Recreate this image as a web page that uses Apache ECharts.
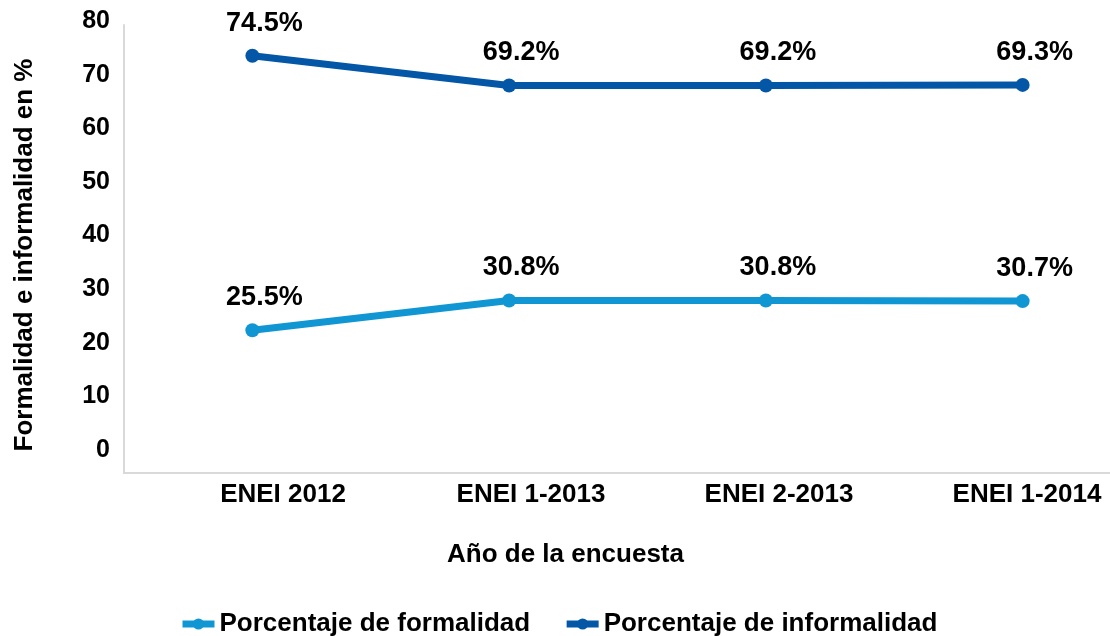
<!DOCTYPE html>
<html>
<head>
<meta charset="utf-8">
<script src="https://cdn.jsdelivr.net/npm/echarts@6/dist/echarts.min.js"></script>
<style>
  html, body { margin: 0; padding: 0; background: #fff; }
  #chart { width: 1110px; height: 636px; }
</style>
</head>
<body>
<div id="chart"></div>
<script>
// datos
const categories = ['ENEI 2012', 'ENEI 1-2013', 'ENEI 2-2013', 'ENEI 1-2014'];
const formalidad = [25.5, 30.8, 30.8, 30.7];
const informalidad = [74.5, 69.2, 69.2, 69.3];
const yMin = 0;
const yMax = 80;
const yStep = 10;

const FONT = '"Liberation Sans", Arial, sans-serif';
const colorFormal = '#1196d4';
const colorInformal = '#0456a6';
const axisGray = '#d9d9d9';

const myChart = echarts.init(document.getElementById('chart'));

const pctLabel = {
  show: true,
  position: 'top',
  distance: 12,
  offset: [12, 0],
  color: '#000',
  fontFamily: FONT,
  fontWeight: 'bold',
  fontSize: 27,
  formatter: (p) => p.value.toFixed(1) + '%'
};

myChart.setOption({
  animation: false,
  title: {
    text: 'Año de la encuesta',
    left: 442,
    top: 537,
    textStyle: { color: '#000', fontFamily: FONT, fontWeight: 'bold', fontSize: 26 }
  },
  legend: {
    left: 174,
    top: 606,
    itemWidth: 32,
    itemHeight: 14,
    itemGap: 33,
    lineStyle: { width: 7 },
    textStyle: { color: '#000', fontFamily: FONT, fontWeight: 'bold', fontSize: 26 },
    data: ['Porcentaje de formalidad', 'Porcentaje de informalidad']
  },
  grid: [
    // area de trazado (se sale por la derecha como en el original)
    { left: 124, width: 1027, top: 25, bottom: 163, outerBoundsMode: 'none' },
    // solo etiquetas del eje y
    { left: 124, width: 1027, top: 21, bottom: 186, outerBoundsMode: 'none' },
    // solo etiquetas del eje x
    { left: 159, width: 992, top: 25, bottom: 163, outerBoundsMode: 'none' }
  ],
  xAxis: [
    {
      gridIndex: 0,
      type: 'category',
      data: categories,
      boundaryGap: true,
      axisLine: { lineStyle: { color: axisGray, width: 2 } },
      axisTick: { show: false },
      axisLabel: { show: false }
    },
    { gridIndex: 1, type: 'category', data: categories, show: false },
    {
      gridIndex: 2,
      type: 'category',
      data: categories,
      axisLine: { show: false },
      axisTick: { show: false },
      axisLabel: {
        margin: 9,
        interval: 0,
        color: '#000',
        fontFamily: FONT,
        fontWeight: 'bold',
        fontSize: 26
      }
    }
  ],
  yAxis: [
    {
      gridIndex: 0,
      type: 'value',
      min: yMin,
      max: yMax,
      interval: yStep,
      name: 'Formalidad e informalidad en %',
      nameLocation: 'middle',
      nameGap: 86,
      nameTextStyle: {
        color: '#000',
        fontFamily: FONT,
        fontWeight: 'bold',
        fontSize: 26,
        padding: [0, 12, 0, 0]
      },
      axisLine: { show: true, lineStyle: { color: axisGray, width: 2 } },
      axisTick: { show: false },
      axisLabel: { show: false },
      splitLine: { show: false }
    },
    {
      gridIndex: 1,
      type: 'value',
      min: yMin,
      max: yMax,
      interval: yStep,
      axisLine: { show: false },
      axisTick: { show: false },
      splitLine: { show: false },
      axisLabel: {
        margin: 14,
        color: '#000',
        fontFamily: FONT,
        fontWeight: 'bold',
        fontSize: 25
      }
    },
    { gridIndex: 2, type: 'value', min: yMin, max: yMax, show: false, splitLine: { show: false } }
  ],
  series: [
    {
      name: 'Porcentaje de formalidad',
      type: 'line',
      xAxisIndex: 0,
      yAxisIndex: 0,
      data: formalidad,
      symbol: 'circle',
      symbolSize: 14,
      lineStyle: { width: 7, color: colorFormal },
      itemStyle: { color: colorFormal },
      label: pctLabel
    },
    {
      name: 'Porcentaje de informalidad',
      type: 'line',
      xAxisIndex: 0,
      yAxisIndex: 0,
      data: informalidad,
      symbol: 'circle',
      symbolSize: 14,
      lineStyle: { width: 7, color: colorInformal },
      itemStyle: { color: colorInformal },
      label: pctLabel
    }
  ]
});
</script>
</body>
</html>
